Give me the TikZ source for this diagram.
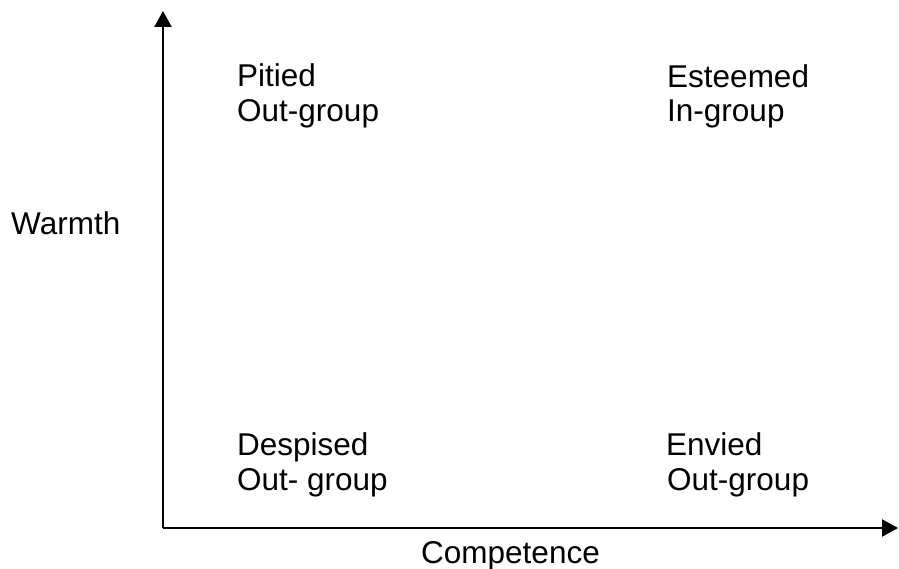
\documentclass[tikz,border=0pt]{standalone}
\usepackage{fontspec}
\setmainfont{Liberation Sans}
\usetikzlibrary{arrows.meta}
\begin{document}
\begin{tikzpicture}[x=1pt,y=-1pt,
  lbl/.style={anchor=base west,inner sep=0pt,font=\fontsize{31.5}{36}\selectfont},
  axis/.style={line width=2.6pt,-{Triangle[length=16pt,width=17pt]}}]
\useasboundingbox (0,0) rectangle (899,569);
\coordinate (o) at (163,528);
\coordinate (ytop) at (163,11);
\coordinate (xend) at (898,528);
\draw[axis] (o) -- (ytop);
\draw[axis] (o) -- (xend);
\node[lbl] (p1) at (237,86.5) {Pitied};
\node[lbl] (p2) at (237,121.5) {Out-group};
\node[lbl] (e1) at (667,87.5) {Esteemed};
\node[lbl] (e2) at (667,122) {In-group};
\node[lbl] (d1) at (237,455) {Despised};
\node[lbl] (d2) at (237,490.5) {Out- group};
\node[lbl] (v1) at (666,455) {Envied};
\node[lbl] (v2) at (667,490.5) {Out-group};
\node[lbl] (w) at (11,235) {Warmth};
\node[lbl] (c) at (421,563) {Competence};
\end{tikzpicture}
\end{document}
